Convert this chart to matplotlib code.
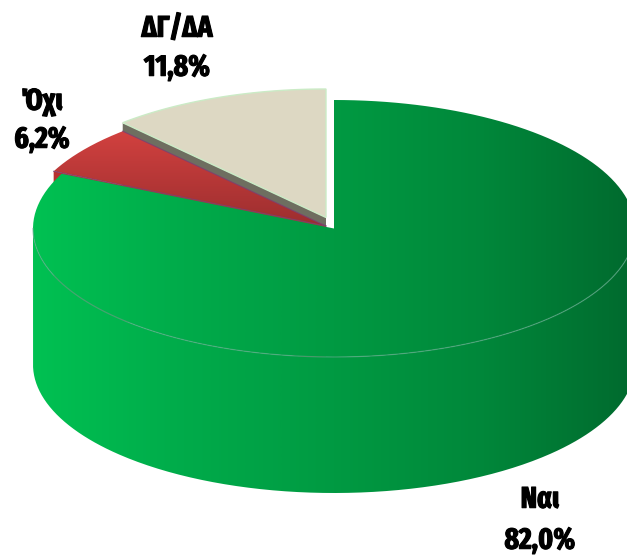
import numpy as np
import matplotlib
matplotlib.use('Agg')
import matplotlib.pyplot as plt
from matplotlib.colors import LinearSegmentedColormap
from matplotlib.patches import PathPatch, Polygon
from matplotlib.path import Path
import matplotlib.patheffects as pe

# data, clockwise from 12 o'clock
labels = ['Ναι', 'Όχι', 'ΔΓ/ΔΑ']
values = [82.0, 6.2, 11.8]
value_text = ['82,0%', '6,2%', '11,8%']

# pie geometry in pixels
A, B, DEPTH = 301, 128.5, 136
CENTERS = [(334, 228.5), (326, 226), (326, 217.5)]
LABEL_POS = [(540, 500, 541), (42, 102, 140), (177, 29, 68)]

green_cmap = LinearSegmentedColormap.from_list(
    'green', ['#00C152', '#00AB4A', '#009A42', '#00873A', '#006A2E'])
red_cmap = LinearSegmentedColormap.from_list('red', ['#D2413F', '#9C2E2F'])


def point(center, cw_deg):
    # cw_deg: angle clockwise from the top of the pie
    t = np.radians(cw_deg)
    return center[0] + A * np.sin(t), center[1] - B * np.cos(t)


def wedge_path(center, start, end):
    angles = np.linspace(start, end, 300)
    pts = [center] + [point(center, a) for a in angles] + [center]
    return Path(pts, closed=False)


def cut_face(center, cw_deg):
    x, y = point(center, cw_deg)
    return [center, (x, y), (x, y + DEPTH), (center[0], center[1] + DEPTH)]


def gradient(ax, cmap, path, extent, vertical=False):
    grad = np.linspace(0, 1, 512)
    grad = grad.reshape(-1, 1) if vertical else grad.reshape(1, -1)
    im = ax.imshow(grad, cmap=cmap, extent=extent, aspect='auto', zorder=2, interpolation='bilinear')
    im.set_clip_path(PathPatch(path, transform=ax.transData))
    return im


fig = plt.figure(figsize=(6.27, 5.58), dpi=100)
ax = fig.add_axes([0, 0, 1, 1])
ax.axis('off')

# slice boundaries from the values
bounds = np.cumsum([0] + values) / sum(values) * 360
green_c, red_c, beige_c = CENTERS

# beige slice with its grey cut face
ax.add_patch(Polygon(cut_face(beige_c, bounds[2]), color='#6E6E60', lw=0, zorder=1))
ax.add_patch(PathPatch(wedge_path(beige_c, bounds[2], bounds[3]), facecolor='#DDD8C3',
                       edgecolor='#CBEBC6', lw=1, zorder=1))

# red slice, darker cut face shows at the far left only
ax.add_patch(Polygon(cut_face(red_c, bounds[1]), color='#B8312F', lw=0, zorder=1.5))
red_path = wedge_path(red_c, bounds[1], bounds[2])
ytop = red_c[1] - B * np.cos(np.radians(bounds[2]))
gradient(ax, red_cmap, red_path, (40, 340, red_c[1], ytop), vertical=True)

# purple hairlines on the straight red edges
for b in bounds[1:3]:
    ex, ey = point(red_c, b)
    ax.plot([red_c[0], ex], [red_c[1], ey], color='#7B3F73', lw=0.8, alpha=0.8, zorder=2.5)

# green wall then green top
arc = np.linspace(90, 270, 300)
front = [point(green_c, a) for a in arc]
bottom = [(x, y + DEPTH) for x, y in front][::-1]
wall = Path(front + bottom + [front[0]])
x0, x1 = green_c[0] - A, green_c[0] + A
wall_im = gradient(ax, green_cmap, wall, (x0, x1, 558, 0))
wall_im.set_zorder(3)
top_im = gradient(ax, green_cmap, wedge_path(green_c, bounds[0], bounds[1]), (x0, x1, 558, 0))
top_im.set_zorder(4)

# faint rim along the front of the top face
fx, fy = zip(*front)
ax.plot(fx, fy, color='#5FA88A', lw=0.9, alpha=0.6, zorder=5)

ax.set_xlim(0, 627)
ax.set_ylim(558, 0)

for name, val, (tx, y1, y2) in zip(labels, value_text, LABEL_POS):
    for s, y in ((name, y1), (val, y2)):
        ax.text(tx, y, s, ha='center', va='center', fontsize=21.5, fontweight='bold', color='black',
                family=['Fira Sans Extra Condensed', 'Roboto Condensed', 'Liberation Sans', 'DejaVu Sans'], zorder=6,
                path_effects=[pe.withStroke(linewidth=0.8, foreground='black')])

fig.savefig('out.png', dpi=100, facecolor='white')
